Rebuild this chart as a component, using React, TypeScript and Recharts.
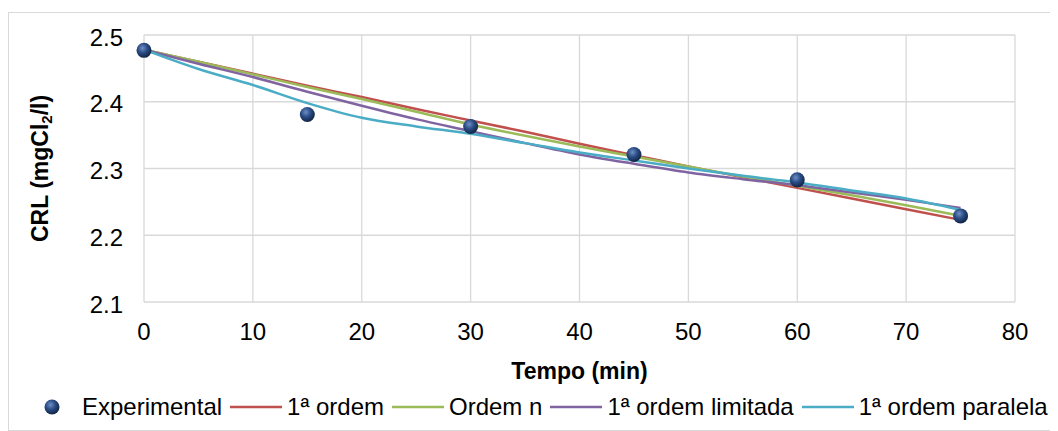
import React from "react";
import {
  ComposedChart,
  Line,
  Scatter,
  XAxis,
  YAxis,
  CartesianGrid,
  Legend
} from "recharts";

// tempos dos modelos (min)
const tempos = [0, 5, 10, 15, 20, 25, 30, 35, 40, 45, 50, 55, 60, 65, 70, 75];

const primeiraOrdem = [2.478, 2.46, 2.442, 2.424, 2.407, 2.389, 2.372, 2.355, 2.337, 2.32, 2.303, 2.287, 2.271, 2.255, 2.239, 2.223];
const ordemN = [2.478, 2.46, 2.441, 2.422, 2.404, 2.385, 2.366, 2.349, 2.333, 2.318, 2.303, 2.288, 2.274, 2.26, 2.245, 2.229];
const ordemLimitada = [2.478, 2.457, 2.437, 2.415, 2.394, 2.374, 2.356, 2.338, 2.321, 2.307, 2.294, 2.284, 2.275, 2.264, 2.253, 2.241];
const ordemParalela = [2.478, 2.449, 2.425, 2.398, 2.376, 2.363, 2.352, 2.338, 2.324, 2.312, 2.3, 2.289, 2.279, 2.267, 2.255, 2.238];

// pontos experimentais
const expTempos = [0, 15, 30, 45, 60, 75];
const expValores = [2.477, 2.381, 2.363, 2.321, 2.283, 2.229];

const xTicks = [0, 10, 20, 30, 40, 50, 60, 70, 80];
const yTicks = [2.1, 2.2, 2.3, 2.4, 2.5];

const series = [
  { key: "primeira", name: "1ª ordem", color: "#c0504d" },
  { key: "ordemN", name: "Ordem n", color: "#9bbb59" },
  { key: "limitada", name: "1ª ordem limitada", color: "#8064a2" },
  { key: "paralela", name: "1ª ordem paralela", color: "#4bacc6" }
];

const modelData = tempos.map((t, i) => ({
  t,
  primeira: primeiraOrdem[i],
  ordemN: ordemN[i],
  limitada: ordemLimitada[i],
  paralela: ordemParalela[i]
}));

const expData = expTempos.map((t, i) => ({ t, exp: expValores[i] }));

const FONT = "'Liberation Sans', Arial, sans-serif";

function Sphere(props: any) {
  const { cx, cy } = props;
  return (
    <g>
      <defs>
        <radialGradient id="esfera" cx="40%" cy="35%" r="65%">
          <stop offset="0%" stopColor="#6f8fc4" />
          <stop offset="50%" stopColor="#2a4c85" />
          <stop offset="100%" stopColor="#122545" />
        </radialGradient>
      </defs>
      <circle cx={cx} cy={cy} r={7.5} fill="url(#esfera)" />
    </g>
  );
}

function YLabel(props: any) {
  const vb = props.viewBox;
  const x = vb.x + 31;
  const y = vb.y + vb.height / 2;
  return (
    <text
      x={x}
      y={y}
      transform={`rotate(-90, ${x}, ${y})`}
      textAnchor="middle"
      dominantBaseline="central"
      fontFamily={FONT}
      fontWeight="bold"
      fontSize={23}
      fill="#000"
    >
      CRL (mgCl
      <tspan fontSize={15} dy={6}>2</tspan>
      <tspan dy={-6}>/l)</tspan>
    </text>
  );
}

function XLabel(props: any) {
  const vb = props.viewBox;
  return (
    <text
      x={vb.x + vb.width / 2}
      y={vb.y + 69}
      textAnchor="middle"
      dominantBaseline="central"
      fontFamily={FONT}
      fontWeight="bold"
      fontSize={23}
      fill="#000"
    >
      Tempo (min)
    </text>
  );
}

function Legenda() {
  const item = { display: "flex", alignItems: "center", marginRight: 8 };
  return (
    <div style={{ display: "flex", alignItems: "center", fontFamily: FONT, fontSize: 24, color: "#000", height: 30, whiteSpace: "nowrap" }}>
      <div style={item}>
        <svg width={52} height={20} style={{ marginRight: 4 }}>
          <Sphere cx={26} cy={10} />
        </svg>
        <span>Experimental</span>
      </div>
      {series.map((s) => (
        <div key={s.key} style={item}>
          <svg width={52} height={20} style={{ marginRight: 5 }}>
            <line x1={0} y1={10} x2={52} y2={10} stroke={s.color} strokeWidth={2.5} />
          </svg>
          <span>{s.name}</span>
        </div>
      ))}
    </div>
  );
}

export default function App() {
  return (
    <div
      style={{
        marginTop: 4,
        width: 1043,
        height: 419,
        border: "1px solid #d9d9d9",
        boxSizing: "border-box",
        fontFamily: FONT
      }}
    >
      <ComposedChart
        width={1041}
        height={417}
        data={modelData}
        margin={{ top: 22, right: 35, left: 0, bottom: 0 }}
      >
        <CartesianGrid stroke="#d9d9d9" strokeWidth={1.3} />
        <XAxis
          dataKey="t"
          type="number"
          domain={[0, 80]}
          ticks={xTicks}
          height={128}
          axisLine={false}
          tickLine={false}
          tickSize={0}
          tickMargin={21}
          tick={{ fontSize: 24, fill: "#000", fontFamily: FONT }}
          label={XLabel}
        />
        <YAxis
          type="number"
          domain={[2.1, 2.5]}
          ticks={yTicks}
          width={135}
          axisLine={false}
          tickLine={false}
          tickSize={0}
          tickMargin={21}
          tickFormatter={(v: number) => v.toFixed(1)}
          tick={{ fontSize: 24, fill: "#000", fontFamily: FONT, dy: 2 }}
          label={YLabel}
        />
        <Scatter
          data={expData}
          dataKey="exp"
          name="Experimental"
          shape={Sphere}
          isAnimationActive={false}
        />
        {series.map((s) => (
          <Line
            key={s.key}
            type="monotone"
            dataKey={s.key}
            name={s.name}
            stroke={s.color}
            strokeWidth={2.5}
            dot={false}
            activeDot={false}
            isAnimationActive={false}
          />
        ))}
        <Legend
          layout="horizontal"
          verticalAlign="middle"
          align="center"
          content={Legenda}
          wrapperStyle={{ top: 379, left: 17, width: 1030 }}
        />
      </ComposedChart>
    </div>
  );
}
